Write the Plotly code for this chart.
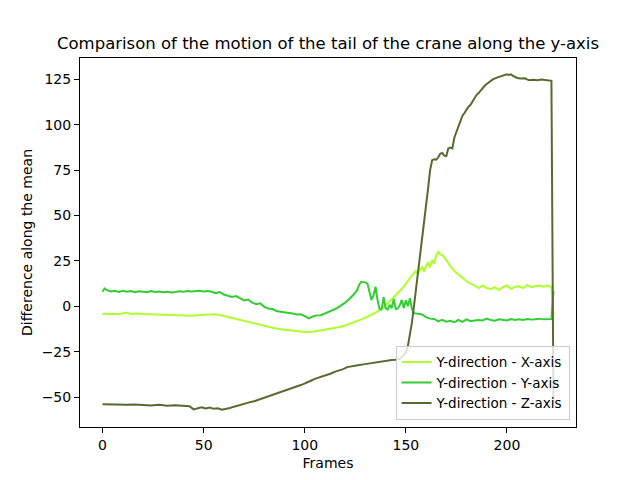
import plotly.graph_objects as go

# ---------------- data ----------------
x_frames = [0, 1, 3, 5, 8, 10, 12, 14, 17, 20, 24, 28, 32, 36, 40, 44, 48, 52, 56, 60,
            64, 68, 72, 76, 80, 84, 88, 92, 96, 100, 104, 108, 112, 116, 120, 124, 128,
            132, 136, 139, 142, 145, 148, 150, 152, 154, 155, 156, 157, 158, 159, 160,
            161, 162, 163, 164, 165, 166, 167, 168, 170, 172, 174, 176, 178, 180, 182,
            184, 186, 188, 190, 192, 194, 196, 198, 200, 202, 204, 206, 208, 210, 212,
            214, 216, 218, 220, 222, 223]
x_values = [-4.5, -4.0, -4.3, -4.1, -4.4, -3.9, -3.4, -4.2, -4.0, -4.3, -4.5, -4.6, -4.9,
            -5.2, -5.3, -5.2, -4.8, -4.5, -4.4, -5.3, -6.4, -7.6, -8.7, -9.9, -10.9, -11.8,
            -12.7, -13.3, -13.8, -14.1, -14.0, -13.3, -12.6, -11.7, -10.6, -9.1, -7.2, -5.2,
            -2.8, -0.5, 2.8, 6.0, 9.5, 12.5, 15.8, 18.4, 19.5, 17.6, 20.5, 21.5, 19.0, 22.5,
            24.0, 21.5, 25.5, 23.5, 28.0, 30.0, 28.5, 28.3, 25.5, 22.0, 19.5, 17.5, 15.8,
            13.8, 12.5, 11.5, 10.0, 11.5, 10.0, 9.5, 10.5, 9.0, 10.5, 11.5, 9.5, 10.8, 11.0,
            10.0, 11.8, 10.5, 11.0, 11.5, 10.8, 11.5, 10.5, -4.5]

y_frames = [0, 1, 2, 4, 6, 8, 10, 12, 14, 16, 18, 20, 22, 24, 26, 28, 30, 32, 34, 36, 38,
            40, 42, 44, 46, 48, 50, 52, 54, 56, 58, 60, 62, 64, 66, 68, 70, 72, 74, 76, 78,
            80, 82, 84, 86, 88, 90, 92, 94, 96, 98, 100, 102, 104, 106, 108, 110, 112, 114,
            116, 118, 120, 122, 124, 126, 127, 128, 130, 131, 132, 133, 134, 135, 136, 137,
            138, 139, 140, 141, 142, 143, 144, 145, 146, 147, 148, 149, 150, 151, 152, 153,
            154, 156, 158, 160, 162, 164, 166, 168, 170, 172, 174, 176, 178, 180, 182, 184,
            186, 188, 190, 192, 194, 196, 198, 200, 202, 204, 206, 208, 210, 212, 214, 216,
            218, 220, 222, 223]
y_values = [8.0, 9.8, 9.0, 8.2, 8.6, 7.9, 8.5, 8.0, 8.4, 7.8, 8.3, 8.1, 7.7, 8.4, 7.9, 8.2,
            7.8, 8.0, 7.6, 7.9, 8.3, 8.0, 8.4, 8.1, 8.5, 8.6, 8.2, 8.4, 8.0, 7.2, 7.8, 6.5,
            5.8, 5.2, 5.6, 4.3, 3.2, 3.7, 2.0, 1.2, 1.6, -0.3, -1.2, -1.5, -2.6, -3.0, -3.2,
            -3.8, -4.0, -4.5, -4.4, -5.4, -6.6, -5.6, -5.0, -4.9, -4.0, -3.0, -2.0, -1.0,
            0.5, 2.0, 4.0, 6.2, 9.0, 12.0, 13.5, 13.2, 12.5, 7.0, 3.5, 6.0, 10.8, 3.5, -1.5,
            -1.8, 5.0, -1.0, -1.8, 0.8, -1.0, 4.0, -1.5, -1.2, 0.5, 3.5, -1.0, 3.3, 0.0,
            4.5, -1.5, -3.8, -4.2, -4.5, -6.0, -6.8, -7.0, -8.3, -7.5, -8.5, -8.0, -8.8,
            -7.5, -8.6, -7.2, -8.2, -7.8, -7.5, -7.8, -6.8, -7.6, -7.9, -7.2, -7.5, -7.8,
            -7.0, -7.6, -7.2, -7.5, -7.0, -7.3, -7.1, -6.8, -7.2, -7.0, -7.0, 8.5]

z_frames = [0, 4, 8, 12, 16, 20, 24, 28, 32, 36, 40, 43, 45, 47, 49, 51, 53, 55, 57, 59,
            61, 63, 65, 67, 69, 71, 73, 75, 77, 79, 81, 83, 85, 87, 89, 91, 93, 95, 97, 99,
            101, 103, 105, 107, 109, 111, 113, 115, 117, 119, 121, 123, 125, 127, 129, 131,
            133, 135, 137, 139, 141, 143, 145, 147, 148, 149, 150, 151, 152, 153, 154, 155,
            156, 157, 158, 159, 160, 161, 162, 163, 164, 165, 166, 167, 168, 169, 170, 171,
            172, 173, 174, 175, 176, 177, 178, 179, 180, 181, 182, 183, 184, 185, 186, 187,
            188, 189, 190, 191, 192, 193, 195, 197, 199, 200, 201, 202, 203, 204, 205, 207,
            209, 210, 211, 213, 215, 217, 219, 221, 222, 223]
z_values = [-54.0, -54.2, -54.0, -54.3, -54.1, -54.4, -54.6, -54.3, -54.8, -54.5, -54.7,
            -55.0, -56.8, -56.0, -55.6, -56.3, -55.8, -56.5, -56.2, -57.0, -56.7, -56.0,
            -55.3, -54.6, -54.0, -53.6, -52.8, -52.3, -51.5, -50.8, -50.0, -49.0, -48.3,
            -47.5, -46.8, -46.0, -45.2, -44.6, -43.8, -43.0, -42.2, -41.0, -40.0, -39.3,
            -38.5, -37.6, -37.0, -36.0, -35.5, -34.6, -33.5, -33.0, -32.8, -32.3, -32.0,
            -31.6, -31.3, -31.0, -30.6, -30.4, -30.0, -29.6, -29.4, -29.0, -28.0, -26.5,
            -25.5, -22.0, -16.0, -9.0, 0.0, 9.0, 20.0, 28.0, 35.0, 46.0, 56.0, 65.0, 75.0,
            80.5, 81.0, 80.8, 82.0, 84.0, 84.5, 83.0, 82.8, 87.0, 87.5, 87.0, 93.0, 96.0,
            99.5, 102.0, 105.0, 106.5, 108.5, 110.0, 111.0, 113.0, 115.0, 116.5, 117.5,
            119.0, 120.5, 121.5, 122.5, 123.5, 124.5, 125.0, 126.0, 126.8, 127.5, 127.8,
            127.5, 127.8, 127.0, 126.5, 125.8, 125.5, 125.6, 125.0, 124.6, 124.8, 124.5,
            124.9, 124.6, 124.4, 124.2, -54.0]

series_names = ["Y-direction - X-axis", "Y-direction - Y-axis", "Y-direction - Z-axis"]
series_colors = ["#ADFF2F", "#32CD32", "#556B2F"]
x_ticks = [0, 50, 100, 150, 200]
y_ticks = [-50, -25, 0, 25, 50, 75, 100, 125]

# ---------------- figure ----------------
FONT = "DejaVu Sans"
W, H = 632, 472   # page body has an 8px margin; keep the plot area where the reference has it
fig = go.Figure()
for fr, vals, name, col in zip([x_frames, y_frames, z_frames],
                               [x_values, y_values, z_values],
                               series_names, series_colors):
    fig.add_trace(go.Scatter(x=fr, y=vals, mode="lines", name=name,
                             line=dict(color=col, width=2)))

fig.update_layout(
    width=W, height=H,
    margin=dict(l=72, r=64, t=50, b=53, autoexpand=False),
    paper_bgcolor="white", plot_bgcolor="white",
    font=dict(family=FONT, size=14, color="black"),
    title=dict(text="Comparison of the motion of the tail of the crane along the y-axis",
               x=0.5, xref="paper", xanchor="center",
               y=1 - 35 / H, yref="container", yanchor="middle", automargin=False,
               font=dict(family=FONT, size=16.5, color="black")),
    legend=dict(x=0.987, y=0.02, xanchor="right", yanchor="bottom",
                bgcolor="rgba(255,255,255,0.8)", bordercolor="#cccccc", borderwidth=1,
                font=dict(family=FONT, size=13.5, color="black"),
                tracegroupgap=0, itemwidth=30),
    showlegend=True,
)
fig.update_xaxes(range=[-11.15, 234.15], tickvals=x_ticks, ticks="outside", ticklen=5,
                 tickwidth=1, tickcolor="black", showline=True, linecolor="black",
                 linewidth=1, mirror=True, showgrid=False, zeroline=False, automargin=False,
                 title=dict(text="Frames", font=dict(family=FONT, size=14), standoff=6),
                 tickfont=dict(family=FONT, size=14))
fig.update_yaxes(range=[-66.5, 136.8], tickvals=y_ticks, ticks="outside", ticklen=5,
                 tickwidth=1, tickcolor="black", showline=True, linecolor="black",
                 linewidth=1, mirror=True, showgrid=False, zeroline=False, automargin=False,
                 title=dict(text="Difference along the mean", font=dict(family=FONT, size=14),
                            standoff=5),
                 tickfont=dict(family=FONT, size=14))

fig.write_html("out.html")
